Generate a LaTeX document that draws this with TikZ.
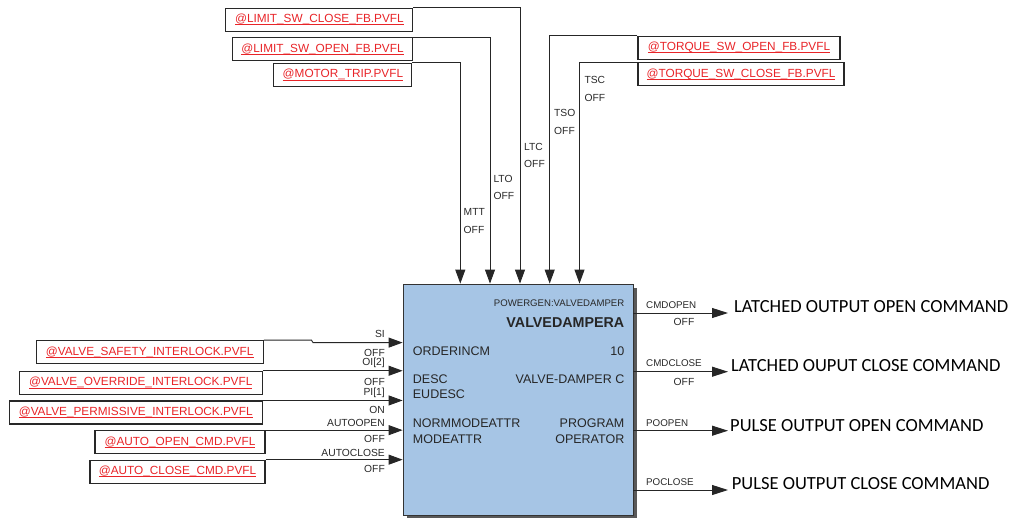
\documentclass[tikz,border=0pt]{standalone}
\usepackage{fontspec}
\setmainfont{Liberation Sans}
\newfontfamily\calfont{Carlito}
\usetikzlibrary{arrows.meta}
\definecolor{linkred}{RGB}{232,36,40}
\definecolor{blkfill}{RGB}{166,197,229}
\definecolor{boxline}{RGB}{40,40,40}
\definecolor{lbl}{RGB}{40,40,40}
\newcommand{\lnk}[1]{\setbox0\hbox{#1}\rlap{\rule[-2.5pt]{\wd0}{0.75pt}}\box0}
\tikzset{
  link/.style={draw=boxline, line width=1.1pt, minimum height=23pt, inner sep=0pt, text=linkred, font=\fontsize{11.8}{11.8}\selectfont},
  wire/.style={draw=black!85, line width=0.9pt},
  arrin/.style={wire, -{Triangle[length=14pt,width=10pt]}},
  arrout/.style={wire, -{Triangle[length=16pt,width=10pt]}},
  sml/.style={inner sep=0pt, text=lbl, font=\fontsize{10.3}{10.3}\selectfont},
  btxt/.style={inner sep=0pt, text=black!85, font=\fontsize{12.5}{12.5}\selectfont},
  big/.style={inner sep=0pt, anchor=west, text=black, font=\calfont\fontsize{18.5}{18.5}\selectfont},
}
\begin{document}
\begin{tikzpicture}[x=1pt,y=-1pt]
\useasboundingbox (0,0) rectangle (1018,520);
% block with shadow
\fill[black!65] (407,288) rectangle (637,518);
\node[draw=black!80, line width=0.8pt, fill=blkfill, minimum width=230pt, minimum height=231pt, inner sep=0pt] (blk) at (518,399.5) {};
% block texts
\node[sml, anchor=east, font=\fontsize{9.6}{9.6}\selectfont] (bpg) at (624.5,303.3) {POWERGEN:VALVEDAMPER};
\node[btxt, anchor=east, font=\bfseries\fontsize{14.3}{14.3}\selectfont] (bnm) at (624.5,322.5) {VALVEDAMPERA};
\node[btxt, anchor=west] (b1) at (412.7,350.7) {ORDERINCM};
\node[btxt, anchor=east] (b2) at (624.5,350.7) {10};
\node[btxt, anchor=west] (b3) at (412.7,379.3) {DESC};
\node[btxt, anchor=east] (b4) at (624.5,379.3) {VALVE-DAMPER C};
\node[btxt, anchor=west] (b5) at (412.7,394.3) {EUDESC};
\node[btxt, anchor=west] (b6) at (412.7,423.3) {NORMMODEATTR};
\node[btxt, anchor=east] (b7) at (624.5,423.3) {PROGRAM};
\node[btxt, anchor=west] (b8) at (412.7,439) {MODEATTR};
\node[btxt, anchor=east] (b9) at (624.5,439) {OPERATOR};

% top link boxes
\node[link, minimum width=187pt] (lsc) at (319.4,19.7) {\lnk{@LIMIT\_SW\_CLOSE\_FB.PVFL}};
\node[link, minimum width=180pt] (lso) at (322.5,49.4) {\lnk{@LIMIT\_SW\_OPEN\_FB.PVFL}};
\node[link, minimum width=138pt] (mtr) at (342.9,74.9) {\lnk{@MOTOR\_TRIP.PVFL}};
\node[link, minimum width=202pt] (tso) at (739,47.7) {\lnk{@TORQUE\_SW\_OPEN\_FB.PVFL}};
\node[link, minimum width=206pt] (tsc) at (741,74) {\lnk{@TORQUE\_SW\_CLOSE\_FB.PVFL}};
\coordinate (x1) at (460.3,0);
\coordinate (x2) at (490,0);
\coordinate (x3) at (520,0);
\coordinate (x4) at (549.7,0);
\coordinate (x5) at (579.5,0);
\draw[arrin] (mtr.north east) -| (x1 |- blk.north);
\draw[arrin] (lso.north east) -| (x2 |- blk.north);
\draw[arrin] (lsc.north east) -| (x3 |- blk.north);
\draw[arrin] (tso.north west) -| (x4 |- blk.north);
\draw[arrin] (tsc.north west) -| (x5 |- blk.north);
% top labels
\node[sml, anchor=west] (lmtt) at (463.5,212) {MTT};
\node[sml, anchor=west] (lmtto) at (463.5,229.7) {OFF};
\node[sml, anchor=west] (llto) at (493.3,179.3) {LTO};
\node[sml, anchor=west] (lltoo) at (493.3,196) {OFF};
\node[sml, anchor=west] (lltc) at (524,146.7) {LTC};
\node[sml, anchor=west] (lltco) at (524,164) {OFF};
\node[sml, anchor=west] (ltso) at (554,113) {TSO};
\node[sml, anchor=west] (ltsoo) at (554,130.7) {OFF};
\node[sml, anchor=west] (ltsc) at (584.3,80) {TSC};
\node[sml, anchor=west] (ltsco) at (584.3,97.7) {OFF};

% left link boxes
\node[link, minimum width=227pt] (vsi) at (149.7,352.2) {\lnk{@VALVE\_SAFETY\_INTERLOCK.PVFL}};
\node[link, minimum width=243pt] (voi) at (140.7,382.8) {\lnk{@VALVE\_OVERRIDE\_INTERLOCK.PVFL}};
\node[link, minimum width=253pt] (vpi) at (135.7,412.5) {\lnk{@VALVE\_PERMISSIVE\_INTERLOCK.PVFL}};
\node[link, minimum width=170pt] (aoc) at (180,442.2) {\lnk{@AUTO\_OPEN\_CMD.PVFL}};
\node[link, minimum width=175pt] (acc) at (177.5,471.7) {\lnk{@AUTO\_CLOSE\_CMD.PVFL}};
\coordinate (sa) at (311.5,0);
\coordinate (sb) at (313,342.6);
\draw[arrin] (vsi.north east) -- (vsi.north east -| sa) -- (sb) -- (sb -| blk.west);
\draw[arrin] (voi.north east) -- (voi.north east -| blk.west);
\draw[arrin] (vpi.north east) -- (vpi.north east -| blk.west);
\draw[arrin] (aoc.north east) -- (aoc.north east -| blk.west);
\draw[arrin] (acc.north east) -- (acc.north east -| blk.west);
% left labels
\node[sml, anchor=east] (lsi) at (385,334) {SI};
\node[sml, anchor=east] (lsio) at (385,352.7) {OFF};
\node[sml, anchor=east] (loi) at (385,363.3) {OI[2]};
\node[sml, anchor=east] (loio) at (385,381.7) {OFF};
\node[sml, anchor=east] (lpi) at (385,393.3) {PI[1]};
\node[sml, anchor=east] (lpio) at (385,410) {ON};
\node[sml, anchor=east] (lao) at (385,423.3) {AUTOOPEN};
\node[sml, anchor=east] (laoo) at (385,439) {OFF};
\node[sml, anchor=east] (lac) at (385,452.7) {AUTOCLOSE};
\node[sml, anchor=east] (laco) at (385,469.3) {OFF};

% outputs
\coordinate (o1) at (728,313);
\coordinate (o2) at (728,371.7);
\coordinate (o3) at (728,430.7);
\coordinate (o4) at (728,490);
\draw[arrout] (o1 -| blk.east) -- (o1);
\draw[arrout] (o2 -| blk.east) -- (o2);
\draw[arrout] (o3 -| blk.east) -- (o3);
\draw[arrout] (o4 -| blk.east) -- (o4);
\node[sml, anchor=west, font=\fontsize{9.8}{9.8}\selectfont] (lco) at (646,305) {CMDOPEN};
\node[sml, anchor=east] (lcoo) at (694.5,322) {OFF};
\node[sml, anchor=west, font=\fontsize{9.8}{9.8}\selectfont] (lcc) at (646,363.5) {CMDCLOSE};
\node[sml, anchor=east] (lcco) at (694.5,381.7) {OFF};
\node[sml, anchor=west, font=\fontsize{9.8}{9.8}\selectfont] (lpo) at (646,423) {POOPEN};
\node[sml, anchor=west, font=\fontsize{9.8}{9.8}\selectfont] (lpc) at (646,481.7) {POCLOSE};
\node[big] (t1) at (734,306.7) {LATCHED OUTPUT OPEN COMMAND};
\node[big] (t2) at (731,366) {LATCHED OUPUT CLOSE COMMAND};
\node[big] (t3) at (730,425.7) {PULSE OUTPUT OPEN COMMAND};
\node[big] (t4) at (731.7,484) {PULSE OUTPUT CLOSE COMMAND};
\end{tikzpicture}
\end{document}
